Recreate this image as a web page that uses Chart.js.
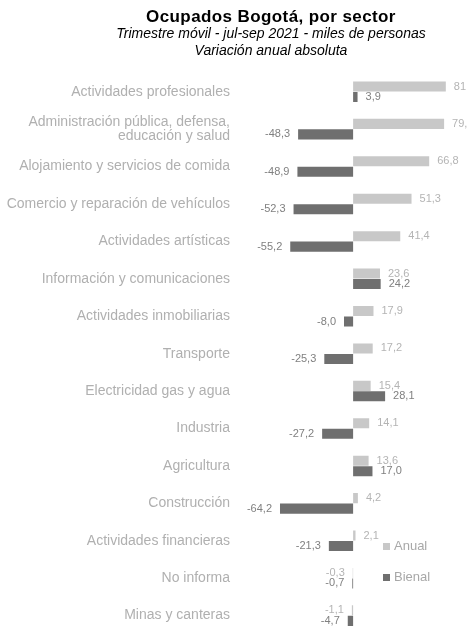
<!DOCTYPE html>
<html>
<head>
<meta charset="utf-8">
<script src="https://cdn.jsdelivr.net/npm/chart.js@4.4.1/dist/chart.umd.min.js"></script>
<style>
html,body{margin:0;padding:0;background:#fff;overflow:hidden;width:467px;height:628px;}
#wrap{position:relative;width:467px;height:673px;}
.t{position:absolute;left:0;width:542px;text-align:center;font-family:"Liberation Sans",Arial,sans-serif;color:#000;white-space:nowrap;}
#t1{top:7px;font-size:17px;font-weight:bold;letter-spacing:0.4px;}
#t2{top:25px;font-size:14px;font-style:italic;}
#t3{top:42px;font-size:14px;font-style:italic;}
canvas{position:absolute;left:0;top:0;}
</style>
</head>
<body>
<div id="wrap">
<canvas id="c" width="467" height="673"></canvas>
<div class="t" id="t1">Ocupados Bogotá, por sector</div>
<div class="t" id="t2">Trimestre móvil - jul-sep 2021 - miles de personas</div>
<div class="t" id="t3">Variación anual absoluta</div>
</div>
<script>
const categories = [
  'Actividades profesionales',
  ['Administración pública, defensa,', 'educación y salud'],
  'Alojamiento y servicios de comida',
  'Comercio y reparación de vehículos',
  'Actividades artísticas',
  'Información y comunicaciones',
  'Actividades inmobiliarias',
  'Transporte',
  'Electricidad gas y agua',
  'Industria',
  'Agricultura',
  'Construcción',
  'Actividades financieras',
  'No informa',
  'Minas y canteras'
];
const seriesNames = ['Anual', 'Bienal'];
const anual  = [81.4, 79.9, 66.8, 51.3, 41.4, 23.6, 17.9, 17.2, 15.4, 14.1, 13.6, 4.2, 2.1, -0.3, -1.1];
const bienal = [3.9, -48.3, -48.9, -52.3, -55.2, 24.2, -8.0, -25.3, 28.1, -27.2, 17.0, -64.2, -21.3, -0.7, -4.7];

const colors = ['#c8c8c8', '#6f6f6f'];
const labelColors = ['#b4b4b4', '#808080'];

const valueLabels = {
  id: 'valueLabels',
  afterDatasetsDraw(chart) {
    const ctx = chart.ctx;
    ctx.save();
    ctx.font = '11px "Liberation Sans", Arial, sans-serif';
    ctx.textBaseline = 'middle';
    chart.data.datasets.forEach((ds, di) => {
      const meta = chart.getDatasetMeta(di);
      meta.data.forEach((el, i) => {
        const v = ds.data[i];
        const txt = v.toFixed(1).replace('.', ',');
        ctx.fillStyle = labelColors[di];
        if (v >= 0) { ctx.textAlign = 'left'; ctx.fillText(txt, el.x + 8, el.y); }
        else { ctx.textAlign = 'right'; ctx.fillText(txt, el.x - 8, el.y); }
      });
    });
    ctx.restore();
  }
};

const customLegend = {
  id: 'customLegend',
  afterDraw(chart) {
    const ctx = chart.ctx;
    ctx.save();
    ctx.font = '13px "Liberation Sans", Arial, sans-serif';
    ctx.textBaseline = 'middle';
    ctx.textAlign = 'left';
    const ys = [546, 577];
    chart.data.datasets.forEach((ds, di) => {
      ctx.fillStyle = ds.backgroundColor;
      ctx.fillRect(383, ys[di] - 3, 7, 7);
      ctx.fillStyle = '#a8a8a8';
      ctx.fillText(ds.label, 394, ys[di]);
    });
    ctx.restore();
  }
};

new Chart(document.getElementById('c'), {
  type: 'bar',
  data: {
    labels: categories,
    datasets: [
      { label: seriesNames[0], data: anual, backgroundColor: colors[0], categoryPercentage: 0.56, barPercentage: 0.96 },
      { label: seriesNames[1], data: bienal, backgroundColor: colors[1], categoryPercentage: 0.56, barPercentage: 0.96 }
    ]
  },
  options: {
    indexAxis: 'y',
    responsive: false,
    animation: false,
    layout: { padding: { top: 73, bottom: 2, left: 0, right: 0 } },
    plugins: { legend: { display: false }, title: { display: false }, tooltip: { enabled: false } },
    scales: {
      x: {
        min: -80, max: 100,
        display: false,
        grid: { display: false }
      },
      y: {
        grid: { display: false, drawTicks: false },
        border: { display: false },
        afterFit(axis) { axis.width = 262; },
        ticks: {
          padding: 32,
          color: '#b0b0b0',
          font: { family: '"Liberation Sans", Arial, sans-serif', size: 14, lineHeight: 0.95 }
        }
      }
    }
  },
  plugins: [valueLabels, customLegend]
});
</script>
</body>
</html>
